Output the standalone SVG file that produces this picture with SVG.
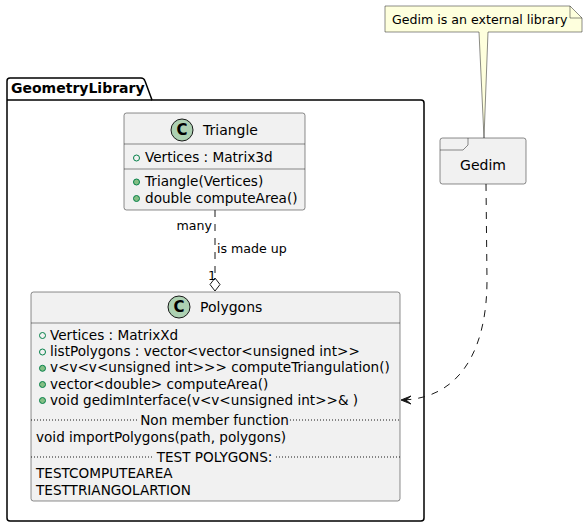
<svg xmlns="http://www.w3.org/2000/svg" width="587" height="527" viewBox="0 0 587 527">
<style>
text{font-family:"DejaVu Sans","Noto Sans",sans-serif;fill:#000}
.cls{fill:#F1F1F1;stroke:#181818;stroke-width:0.5}
.sep{stroke:#181818;stroke-width:0.5}
.dot{stroke:#181818;stroke-width:1;stroke-dasharray:1,2}
.t14{font-size:14px}
.m{font-size:13.6px}
.t13{font-size:12.6px}
.ci{fill:#ADD1B2;stroke:#181818;stroke-width:1}
.fld{fill:none;stroke:#038048;stroke-width:1}
.mth{fill:#84BE84;stroke:#038048;stroke-width:1}
.conn{fill:none;stroke:#181818;stroke-width:1;stroke-dasharray:7,7}
</style>
<g id="GeometryLibrary">
<path d="M10,78 L141,78 Q144,78 145,81 L152,100 L421,100 Q424,100 424,103 L424,518 Q424,521 421,521 L10,521 Q7,521 7,518 L7,81 Q7,78 10,78 Z" fill="none" stroke="#000" stroke-width="1.5"/>
<line x1="7" y1="100" x2="152" y2="100" stroke="#000" stroke-width="1.5"/>
<text x="11" y="93" class="t14" font-weight="bold">GeometryLibrary</text>
</g>
<g id="Triangle">
<rect x="124" y="113" width="181" height="97" rx="2.5" class="cls"/>
<circle cx="182" cy="130" r="11" class="ci"/>
<text x="182" y="135" text-anchor="middle" font-size="15" font-weight="bold">C</text>
<text x="203" y="135" class="t14">Triangle</text>
<line x1="124" y1="144" x2="305" y2="144" class="sep"/>
<circle cx="136.5" cy="158" r="3" class="fld"/>
<text x="145" y="162" class="m">Vertices : Matrix3d</text>
<line x1="124" y1="169" x2="305" y2="169" class="sep"/>
<circle cx="136.5" cy="182" r="3" class="mth"/>
<text x="145" y="186" class="m">Triangle(Vertices)</text>
<circle cx="136.5" cy="198.5" r="3" class="mth"/>
<text x="145" y="202.5" class="m">double computeArea()</text>
</g>
<g id="Polygons">
<rect x="31" y="292" width="369" height="209" rx="2.5" class="cls"/>
<circle cx="179" cy="307" r="11" class="ci"/>
<text x="179" y="312" text-anchor="middle" font-size="15" font-weight="bold">C</text>
<text x="200" y="312" class="t14">Polygons</text>
<line x1="31" y1="323" x2="400" y2="323" class="sep"/>
<circle cx="42.5" cy="335.5" r="3" class="fld"/>
<text x="50" y="339.5" class="m">Vertices : MatrixXd</text>
<circle cx="42.5" cy="352" r="3" class="fld"/>
<text x="50" y="356" class="m">listPolygons : vector&lt;vector&lt;unsigned int&gt;&gt;</text>
<circle cx="42.5" cy="368.3" r="3" class="mth"/>
<text x="50" y="372.3" class="m">v&lt;v&lt;v&lt;unsigned int&gt;&gt;&gt; computeTriangulation()</text>
<circle cx="42.5" cy="384.5" r="3" class="mth"/>
<text x="50" y="388.5" class="m">vector&lt;double&gt; computeArea()</text>
<circle cx="42.5" cy="400.5" r="3" class="mth"/>
<text x="50" y="404.5" class="m">void gedimInterface(v&lt;v&lt;unsigned int&gt;&gt;&amp; )</text>
<line x1="31" y1="420" x2="139" y2="420" class="dot"/>
<line x1="290" y1="420" x2="400" y2="420" class="dot"/>
<text x="214.5" y="425" text-anchor="middle" class="m">Non member function</text>
<text x="36" y="442" class="m">void importPolygons(path, polygons)</text>
<line x1="31" y1="457" x2="153" y2="457" class="dot"/>
<line x1="276" y1="457" x2="400" y2="457" class="dot"/>
<text x="214.5" y="462" text-anchor="middle" class="m">TEST POLYGONS:</text>
<text x="36" y="478" class="m">TESTCOMPUTEAREA</text>
<text x="36" y="494.5" class="m">TESTTRIANGOLARTION</text>
</g>
<g id="Gedim">
<rect x="440" y="138" width="86" height="46" rx="2.5" class="cls"/>
<path d="M440,150 L463,150 L468,145 L468,138" fill="none" stroke="#181818" stroke-width="0.5"/>
<text x="483" y="170" text-anchor="middle" class="t14">Gedim</text>
</g>
<g id="note">
<path d="M385,6 L570,6 L582,18 L582,32 L488,32 L484,138 L479,32 L385,32 Z" fill="#FEFFDD" stroke="#181818" stroke-width="0.5"/>
<path d="M570,6 L570,18 L582,18" fill="none" stroke="#181818" stroke-width="0.5"/>
<text x="392" y="23.5" class="t13">Gedim is an external library</text>
</g>
<g id="connectors">
<path d="M215,210 L215,278" class="conn"/>
<polygon points="215,278 220,284.5 215,291 210,284.5" fill="#FFFFFF" stroke="#181818" stroke-width="1"/>
<text x="212" y="230" text-anchor="end" class="t13">many</text>
<text x="217" y="253" class="t13">is made up</text>
<text x="208" y="280" class="t13">1</text>
<path d="M486,184 L487,280 C487,350 460,398 403,400" class="conn"/>
<polygon points="401,400 411,396 406,400 411,404" fill="#181818" stroke="#181818" stroke-width="1"/>
</g>
</svg>
